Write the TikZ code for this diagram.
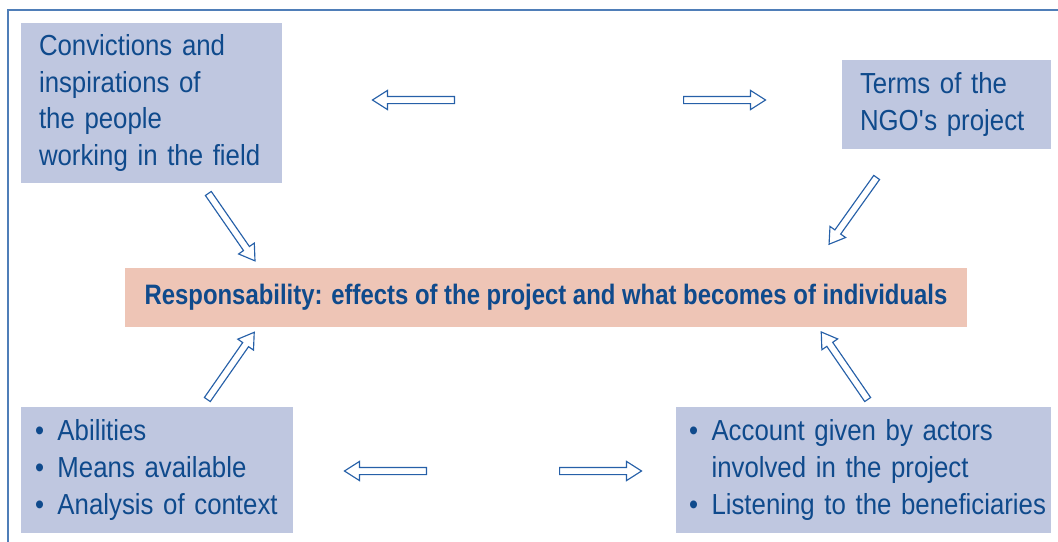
\documentclass[tikz,border=0pt]{standalone}
\usepackage{fontspec}
\setmainfont[FakeStretch=0.89]{Liberation Sans}
\newfontfamily\headfont[FakeStretch=0.85]{Liberation Sans}
\usetikzlibrary{shapes.arrows}

\definecolor{lavender}{HTML}{BFC7E0}
\definecolor{salmon}{HTML}{EEC5B6}
\definecolor{ink}{HTML}{0F4A8C}
\definecolor{arrowblue}{HTML}{2660A8}
\definecolor{framec}{HTML}{4F7EB8}

% bullet items, one line each, and the hanging indent
\newcommand{\bul}[1]{\mbox{\makebox[0.45cm][l]{\textbullet}#1}}
\newcommand{\ind}[1]{\mbox{\hspace*{0.45cm}#1}}

\begin{document}
\begin{tikzpicture}
    [x=0.02cm, y=-0.02cm,
     box/.style={fill=lavender, text=ink, align=left, inner ysep=0pt,
                 font=\fontsize{16.5}{21}\selectfont},
     focus/.style={fill=salmon, text=ink, minimum width=16.84cm, minimum height=1.18cm,
                   font=\headfont\bfseries\fontsize{16}{20}\selectfont},
     hollow/.style={single arrow, draw=arrowblue, fill=white, line width=0.65pt,
                    inner xsep=0pt, inner ysep=0.06cm, minimum height=1.64cm,
                    single arrow head extend=0.12cm, single arrow tip angle=65}]
    \useasboundingbox (0,0) rectangle (1058,541);
    \clip (0,0) rectangle (1058,541);

    % outer frame, runs off the page on the right and bottom
    \draw[framec, line width=1.1pt] (8,10) rectangle (1090,570);

    \node[box, minimum width=5.22cm, minimum height=3.2cm, inner xsep=0.36cm, text width=4.5cm]
        (convictions) at (151.5,103) {Convictions and\\ inspirations of\\ the people\\ working in the field};
    \node[box, minimum width=4.18cm, minimum height=1.78cm, inner xsep=0.36cm, text width=3.46cm]
        (terms) at (946.5,104.5) {Terms of the\\ NGO\textquotesingle s project};
    \node[focus] (resp) at (546,297.5)
        {Responsability: effects of the project and what becomes of individuals};
    \node[box, minimum width=5.44cm, minimum height=2.52cm, inner xsep=0.28cm, text width=4.88cm]
        (means) at (157,470) {\bul{Abilities}\\ \bul{Means available}\\ \bul{Analysis of context}};
    \node[box, minimum width=7.5cm, minimum height=2.52cm, inner xsep=0.26cm, text width=6.98cm]
        (account) at (863.5,470) {\bul{Account given by actors}\\ \ind{involved in the project}\\ \bul{Listening to the beneficiaries}};

    % hollow arrows
    \node[hollow, anchor=tail, rotate=180] (toconv) at (455,100) {};
    \node[hollow, anchor=tail] (toterms) at (683,100) {};
    \node[hollow, anchor=tail, rotate=-55.3] (convresp) at (208,193) {};
    \node[hollow, anchor=tail, rotate=-125.5] (termsresp) at (877,177) {};
    \node[hollow, anchor=tail, rotate=55.1] (meansresp) at (207,400) {};
    \node[hollow, anchor=tail, rotate=124.5] (accresp) at (868,400) {};
    \node[hollow, anchor=tail, rotate=180] (tomeans) at (427,471) {};
    \node[hollow, anchor=tail] (toaccount) at (559,471) {};
\end{tikzpicture}
\end{document}
